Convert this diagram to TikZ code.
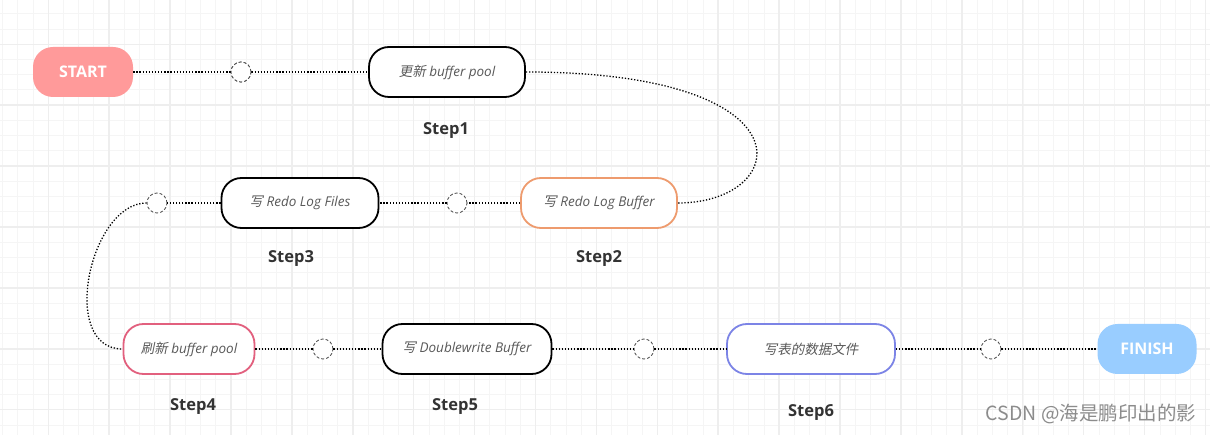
\documentclass[tikz,border=0pt]{standalone}
\usepackage{fontspec}
\setmainfont{Open Sans}
\newfontfamily\cjk{Noto Sans CJK SC}
\newfontfamily\cjkit[FakeSlant=0.2]{Noto Sans CJK SC}
\newcommand{\zh}[1]{{\cjkit #1}}

\definecolor{startred}{HTML}{FF9A9A}
\definecolor{finishblue}{HTML}{99CDFF}
\definecolor{rloborder}{HTML}{EE9B6E}
\definecolor{flushborder}{HTML}{E2607E}
\definecolor{databorder}{HTML}{7C84E6}
\definecolor{gridminor}{HTML}{F5F5F5}
\definecolor{gridmajor}{HTML}{EEEEEE}

\begin{document}
\begin{tikzpicture}[x=1pt,y=-1pt,
  stepbox/.style={draw=black,line width=1.8pt,rounded corners=20pt,minimum height=50pt,
    fill=white,inner sep=0pt,text=black!65,font=\fontsize{13.5}{15}\selectfont\itshape},
  endbox/.style={rounded corners=20pt,minimum height=50pt,minimum width=100pt,
    inner sep=0pt,text=white,font=\fontsize{16}{18}\selectfont\bfseries},
  junction/.style={circle,draw=black!70,line width=0.8pt,dash pattern=on 3pt off 2pt,
    minimum size=20pt,inner sep=0pt,fill=white},
  steptag/.style={text=black!80,font=\fontsize{16.5}{19}\selectfont\bfseries},
  link/.style={line width=1.3pt,dash pattern=on 1.3pt off 1.8pt}]
  \useasboundingbox[fill=white] (0,0) rectangle (1210,435);
  % background grid
  \foreach \i in {0,...,79}
    \draw[gridminor,line width=1pt] ({2.6+15.23*\i},0) -- ++(0,435);
  \foreach \i in {0,...,27}
    \draw[gridminor,line width=1pt] (0,{13.84+15.23*\i}) -- ++(1210,0);
  \foreach \i in {0,...,19}
    \draw[gridmajor,line width=1.5pt] ({48.3+60.9*\i},0) -- ++(0,435);
  \foreach \i in {0,...,6}
    \draw[gridmajor,line width=1.5pt] (0,{44.3+60.9*\i}) -- ++(1210,0);

  % nodes
  \node[endbox,fill=startred] (start) at (83,72) {START};
  \node[junction] (c1) at (241,72) {};
  \node[stepbox,minimum width=156pt] (upd) at (447,72) {\zh{更新} buffer pool};
  \node[stepbox,draw=rloborder,minimum width=156pt] (rlb) at (599,203) {\zh{写} Redo Log Buffer};
  \node[junction] (c2) at (457,203) {};
  \node[stepbox,minimum width=157pt] (rlf) at (300,203) {\zh{写} Redo Log Files};
  \node[junction] (c3) at (157,203) {};
  \node[stepbox,draw=flushborder,minimum width=131pt] (flush) at (189,349) {\zh{刷新} buffer pool};
  \node[junction] (c4) at (323,349) {};
  \node[stepbox,minimum width=169pt] (dwb) at (467,349) {\zh{写} Doublewrite Buffer};
  \node[junction] (c5) at (644,349) {};
  \node[stepbox,draw=databorder,minimum width=168pt] (data) at (811,349) {\zh{写表的数据文件}};
  \node[junction] (c6) at (991,349) {};
  \node[endbox,fill=finishblue,minimum width=99pt] (finish) at (1147,349) {FINISH};

  % step tags
  \foreach \name/\x/\y/\n in {s1/446/131/1,s2/599/259/2,s3/291/259/3,s4/193/407/4,s5/455/407/5,s6/811/413/6}
    \node[steptag] (\name) at (\x,\y) {Step\n};

  % connectors
  \draw[link] (start) -- (c1) -- (upd);
  \draw[link] (upd.east) .. controls +(290,0) and +(113,0) .. (rlb.east);
  \draw[link] (rlb) -- (c2) -- (rlf) -- (c3);
  \draw[link] (c3.west) .. controls +(-57,0) and +(-64,0) .. (flush.west);
  \draw[link] (flush) -- (c4) -- (dwb) -- (c5) -- (data) -- (c6) -- (finish);
  \foreach \c in {c1,...,c6}
    \node[junction] at (\c) {};

  \node[text=black!45,font=\cjk\fontsize{19.5}{21}\selectfont] (mark) at (1091,414) {CSDN @海是鹏印出的影};
\end{tikzpicture}
\end{document}
